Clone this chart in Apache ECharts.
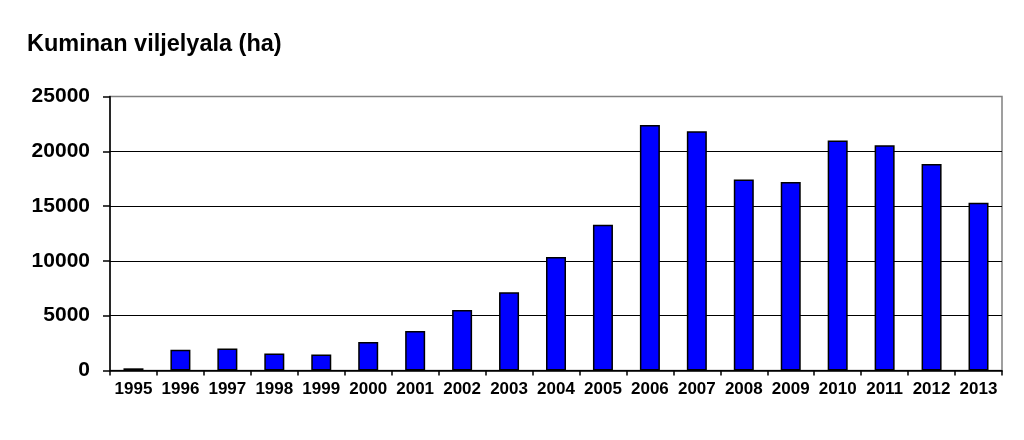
<!DOCTYPE html>
<html>
<head>
<meta charset="utf-8">
<script src="https://cdn.jsdelivr.net/npm/echarts@6/dist/echarts.min.js"></script>
<style>
html,body{margin:0;padding:0;background:#fff;}
#chart{width:1024px;height:440px;}
</style>
</head>
<body>
<div id="chart"></div>
<script>
const titleText = 'Kuminan viljelyala (ha)';
const years = ['1995','1996','1997','1998','1999','2000','2001','2002','2003','2004','2005','2006','2007','2008','2009','2010','2011','2012','2013'];
const areaHa = [200, 1900, 2000, 1550, 1460, 2590, 3600, 5510, 7150, 10350, 13290, 22390, 21840, 17430, 17190, 20990, 20560, 18830, 15300];
const yTicks = [0, 5000, 10000, 15000, 20000, 25000];

const chart = echarts.init(document.getElementById('chart'), null, {renderer: 'canvas'});
const font = 'Liberation Sans, Arial, sans-serif';
chart.setOption({
  animation: false,
  backgroundColor: '#ffffff',
  title: {
    text: titleText,
    left: 27,
    top: 33,
    padding: 0,
    textStyle: {fontFamily: font, fontWeight: 'bold', fontSize: 23.5, color: '#000'}
  },
  grid: {
    left: 110, right: 22, top: 96.5, bottom: 69.5,
    show: true, borderColor: '#808080', borderWidth: 1.5, backgroundColor: 'transparent'
  },
  xAxis: {
    type: 'category',
    data: years,
    boundaryGap: true,
    axisLine: {lineStyle: {color: '#000', width: 1.5}},
    axisTick: {show: true, inside: false, length: 5, interval: 0, lineStyle: {color: '#000', width: 1.5}},
    axisLabel: {interval: 0, margin: 10, fontFamily: font, fontWeight: 'bold', fontSize: 17, color: '#000'}
  },
  yAxis: {
    type: 'value',
    min: yTicks[0],
    max: yTicks[yTicks.length - 1],
    interval: 5000,
    axisLine: {show: true, lineStyle: {color: '#000', width: 1.5}},
    axisTick: {show: true, inside: false, length: 7, lineStyle: {color: '#000', width: 1.5}},
    axisLabel: {margin: 20, fontFamily: font, fontWeight: 'bold', fontSize: 21, color: '#000',
      formatter: function (v) { return String(v); }},
    splitLine: {show: true, lineStyle: {color: ['#000','#000','#000','#000','#000','#808080'], width: 1.2}}
  },
  series: [{
    type: 'bar',
    data: areaHa,
    barWidth: 20,
    itemStyle: {color: '#0000ff', borderColor: '#000', borderWidth: 1.5}
  }]
});
</script>
</body>
</html>
